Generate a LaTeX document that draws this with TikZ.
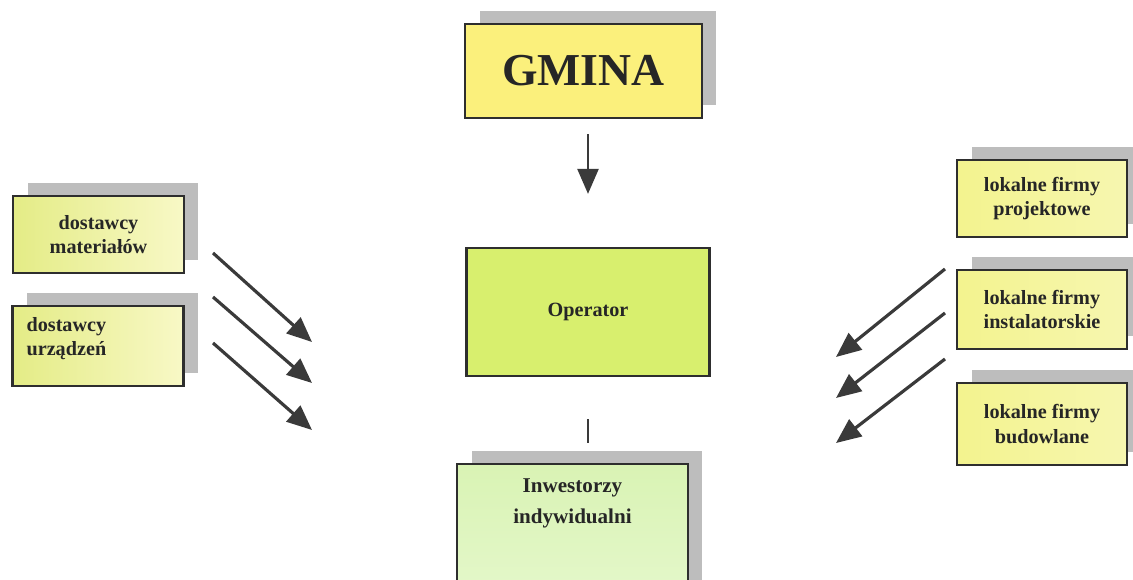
\documentclass[tikz,border=0pt]{standalone}
\usepackage{fontspec}
\setmainfont{Liberation Serif}
\usetikzlibrary{arrows.meta,shadows}
\definecolor{boxline}{HTML}{2E2E2E}
\definecolor{arrowgray}{HTML}{3A3A3A}
\definecolor{shadowgray}{HTML}{BDBDBD}
\definecolor{gminafill}{HTML}{FBF07C}
\definecolor{supplyleft}{HTML}{E4EC86}
\definecolor{supplyright}{HTML}{F8F8C6}
\definecolor{localfill}{HTML}{F3F38E}
\definecolor{operatorfill}{HTML}{D8EF6E}
\definecolor{investtop}{HTML}{D9F3B4}
\definecolor{investbottom}{HTML}{EAFAD6}

\begin{document}
\begin{tikzpicture}[x=0.02cm,y=-0.02cm,
    box/.style={draw=boxline,line width=1.3pt,align=center,inner sep=2pt,
        font=\bfseries\fontsize{11.5}{13.8}\selectfont,text=black!85},
    shadowed/.style={general shadow={fill=shadowgray,shadow xshift=0.29cm,shadow yshift=0.26cm}},
    supplybox/.style={box,shadowed,left color=supplyleft,right color=supplyright,
        minimum width=3.42cm},
    localbox/.style={box,shadowed,left color=localfill,right color=localfill!70!white,
        minimum width=3.4cm},
    flow/.style={draw=arrowgray,line width=1.8pt,-{Triangle[length=0.5cm,width=0.42cm]}}]

    \fill[white] (0,0) rectangle (1133,580);
    \clip (0,0) rectangle (1133,580);

    % top and middle
    \node[box,shadowed,fill=gminafill,minimum width=4.74cm,minimum height=1.88cm,
        font=\bfseries\fontsize{26}{30}\selectfont] (gmina) at (583.5,71) {GMINA};
    \node[box,fill=operatorfill,minimum width=4.86cm,minimum height=2.56cm] (operator) at (588,312) {Operator};
    \node[box,shadowed,top color=investtop,bottom color=investbottom,anchor=north,
        minimum width=4.62cm,inner ysep=0.3cm,text depth=2.6cm,
        font=\bfseries\fontsize{12}{17.5}\selectfont] (inwestorzy) at (572.5,463) {Inwestorzy\\indywidualni};

    % suppliers
    \node[supplybox,minimum height=1.54cm] (materialy) at (98.5,234.5) {dostawcy\\materiałów};
    \node[supplybox,minimum height=1.6cm,align=left,inner xsep=8pt,text width=3.42cm-16pt,
        text depth=25pt] (urzadzenia) at (98,346) {dostawcy\\urządzeń};

    % local firms
    \node[localbox,minimum height=1.54cm] (projektowe) at (1042,198.5) {lokalne firmy\\projektowe};
    \node[localbox,minimum height=1.58cm] (instalatorskie) at (1042,309.5) {lokalne firmy\\instalatorskie};
    \node[localbox,minimum height=1.64cm] (budowlane) at (1042,424) {lokalne firmy\\budowlane};

    \coordinate (l1s) at (213,253);
    \coordinate (l1e) at (312,342);
    \coordinate (l2s) at (213,297);
    \coordinate (l2e) at (312,383);
    \coordinate (l3s) at (213,343);
    \coordinate (l3e) at (312,430);
    \coordinate (r1s) at (945,269);
    \coordinate (r1e) at (836,357);
    \coordinate (r2s) at (945,313);
    \coordinate (r2e) at (836,398);
    \coordinate (r3s) at (945,359);
    \coordinate (r3e) at (836,443);

    \draw[flow,line width=1.4pt,shorten <=0.3cm,shorten >=1.06cm] (gmina.south -| operator) -- (operator.north);
    \draw[draw=arrowgray,line width=1.6pt,shorten <=0.84cm,shorten >=0.4cm] (operator.south) -- (operator.south |- inwestorzy.north);

    \draw[flow] (l1s) -- (l1e);
    \draw[flow] (l2s) -- (l2e);
    \draw[flow] (l3s) -- (l3e);
    \draw[flow] (r1s) -- (r1e);
    \draw[flow] (r2s) -- (r2e);
    \draw[flow] (r3s) -- (r3e);
\end{tikzpicture}
\end{document}
